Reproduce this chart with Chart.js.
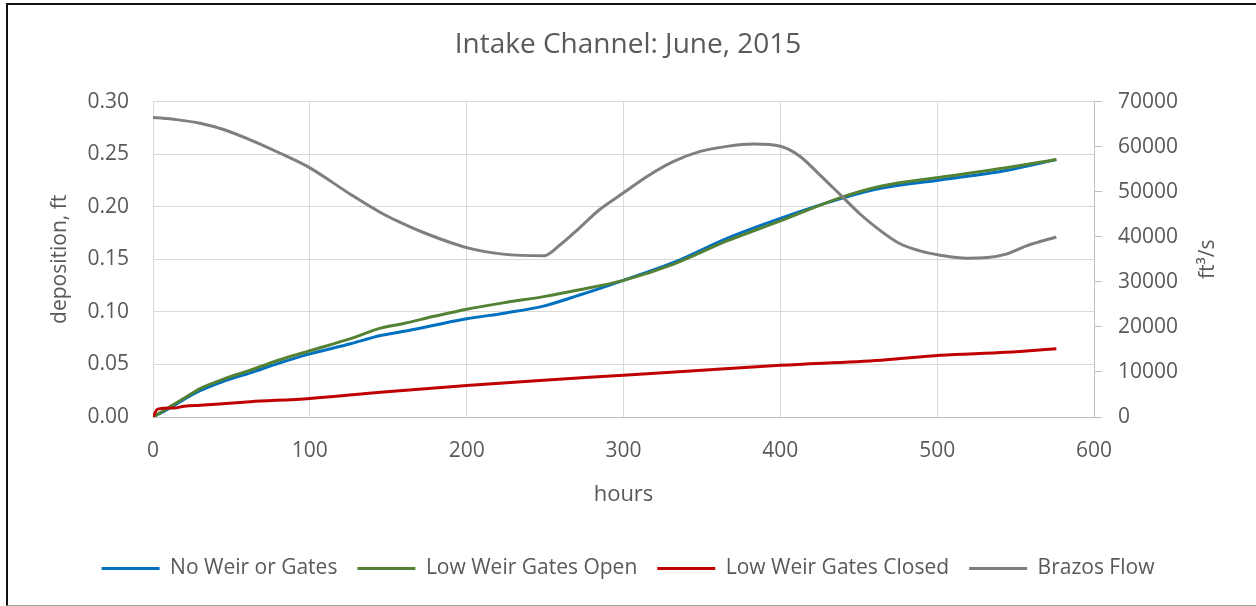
<!DOCTYPE html>
<html>
<head>
<meta charset="utf-8">
<script src="https://cdn.jsdelivr.net/npm/chart.js@4.4.0/dist/chart.umd.min.js"></script>
<style>
    html, body { margin: 0; padding: 0; background: #ffffff; }
    #wrap { position: relative; width: 1256px; height: 606px; overflow: hidden; }
    #frame { position: absolute; left: 6px; top: 3px; right: -4px; height: 600px;
             border-left: 2px solid #111; border-top: 2px solid #111; border-bottom: 1px solid #a6a6a6;
             pointer-events: none; }
</style>
</head>
<body>
<div id="wrap">
    <canvas id="myChart" width="1256" height="606"></canvas>
    <div id="frame"></div>
</div>

<script>
// deposition series (ft), hours
var hoursDep = [0, 10, 20, 30, 45, 62, 80, 100, 126, 145, 160, 180, 200, 225, 249, 272, 300, 332, 366, 400, 438, 464, 502, 544, 576];
var noWeir = [0, 0.008, 0.017, 0.025, 0.034, 0.042, 0.051, 0.060, 0.0697, 0.0775, 0.0815, 0.0875, 0.0934, 0.099, 0.1055, 0.116, 0.130, 0.147, 0.170, 0.189, 0.2075, 0.2175, 0.2255, 0.2345, 0.2448];
var gatesOpen = [0, 0.009, 0.018, 0.027, 0.036, 0.0445, 0.054, 0.063, 0.0745, 0.0845, 0.089, 0.096, 0.1025, 0.109, 0.1145, 0.121, 0.130, 0.1455, 0.1675, 0.1865, 0.2085, 0.2195, 0.228, 0.237, 0.245];

var hoursClosed = [0, 3, 13, 20, 30, 62, 100, 145, 200, 249, 300, 350, 400, 464, 502, 544, 576];
var gatesClosed = [0, 0.0075, 0.0085, 0.0102, 0.0112, 0.0145, 0.0177, 0.0235, 0.0300, 0.035, 0.0397, 0.0445, 0.0492, 0.054, 0.0587, 0.0615, 0.065];

// Brazos flow (ft3/s)
var hoursFlow = [0, 15, 30, 45, 62, 80, 100, 126, 145, 157, 172, 200, 223, 249, 260, 272, 285, 300, 315, 332, 349, 366, 383, 400, 412, 425, 438, 451, 464, 476, 489, 502, 519, 532, 544, 557, 576];
var brazosFlow = [66500, 66000, 65200, 63800, 61500, 58700, 55300, 49400, 45400, 43300, 41000, 37600, 36150, 35770, 38350, 42000, 46100, 49750, 53400, 56750, 58950, 60060, 60570, 60100, 58000, 53800, 49400, 45000, 41300, 38500, 36870, 35920, 35260, 35400, 36150, 37980, 39960];

var seriesNames = ["No Weir or Gates", "Low Weir Gates Open", "Low Weir Gates Closed", "Brazos Flow"];
var seriesColors = ["#0070c0", "#548235", "#c00000", "#7f7f7f"];

var FONT = "'Open Sans', Lato, sans-serif";
var TXT = "#595959";

function pts(xs, ys) {
    var out = [];
    for (let i in xs) {
        out.push({ x: xs[i], y: ys[i] });
    }
    return out;
}

function ds(i, data, axis, order) {
    return {
        label: seriesNames[i],
        data: data,
        yAxisID: axis,
        borderColor: seriesColors[i],
        backgroundColor: seriesColors[i],
        borderWidth: 3,
        pointRadius: 0,
        cubicInterpolationMode: 'monotone',
        order: order
    };
}

// right axis title reads bottom-to-top like the left one
var rightTitle = {
    id: 'rightTitle',
    afterDraw: function (chart) {
        let c = chart.ctx;
        let area = chart.chartArea;
        c.save();
        c.translate(1208, (area.top + area.bottom) / 2);
        c.rotate(-Math.PI / 2);
        c.fillStyle = TXT;
        c.font = "21px " + FONT;
        c.textAlign = 'center';
        c.textBaseline = 'middle';
        c.fillText('ft\u00b3/s', 0, 0);
        c.restore();
    }
};

var ctx = document.getElementById('myChart').getContext('2d');
var myChart = new Chart(ctx, {
    type: 'line',
    data: {
        datasets: [
            ds(0, pts(hoursDep, noWeir), 'y', 4),
            ds(1, pts(hoursDep, gatesOpen), 'y', 3),
            ds(2, pts(hoursClosed, gatesClosed), 'y', 2),
            ds(3, pts(hoursFlow, brazosFlow), 'y2', 1)
        ]
    },
    plugins: [rightTitle],
    options: {
        responsive: false,
        animation: false,
        layout: { padding: { left: 0, right: 0, top: 0, bottom: 17 } },
        plugins: {
            tooltip: { enabled: false },
            title: {
                display: true,
                text: 'Intake Channel: June, 2015',
                color: TXT,
                font: { family: FONT, size: 28, weight: 'normal' },
                padding: { top: 28, bottom: 40 }
            },
            legend: {
                position: 'bottom',
                labels: {
                    color: TXT,
                    font: { family: FONT, size: 21 },
                    usePointStyle: true,
                    pointStyle: 'line',
                    pointStyleWidth: 58,
                    padding: 20,
                    sort: function (a, b) { return a.datasetIndex - b.datasetIndex; }
                }
            }
        },
        scales: {
            x: {
                type: 'linear',
                min: 0,
                max: 600,
                ticks: { stepSize: 100, color: TXT, font: { family: FONT, size: 21 }, padding: 21, maxRotation: 0 },
                grid: { color: '#d9d9d9', drawTicks: false },
                border: { color: '#bfbfbf', width: 1 },
                title: { display: true, text: 'hours', color: TXT, font: { family: FONT, size: 22 }, padding: { top: 0, bottom: 30 } },
                afterFit: function (scale) { scale.height = 121; }
            },
            y: {
                position: 'left',
                min: 0,
                max: 0.30,
                ticks: {
                    stepSize: 0.05, color: TXT, font: { family: FONT, size: 21 }, padding: 24,
                    callback: function (v) { return v.toFixed(2); }
                },
                grid: { color: '#d9d9d9', drawTicks: false },
                border: { display: false },
                title: { display: true, text: 'deposition, ft', color: TXT, font: { family: FONT, size: 21 }, padding: { top: 47, bottom: 0 } },
                afterFit: function (scale) { scale.width = 153; }
            },
            y2: {
                position: 'right',
                min: 0,
                max: 70000,
                ticks: {
                    stepSize: 10000, color: TXT, font: { family: FONT, size: 21 }, padding: 16,
                    callback: function (v) { return String(v); }
                },
                grid: { drawOnChartArea: false, color: '#bfbfbf', tickLength: 8 },
                border: { color: '#bfbfbf', width: 1 },
                title: { display: false },
                afterFit: function (scale) { scale.width = 162; }
            }
        }
    }
});
</script>
</body>
</html>
